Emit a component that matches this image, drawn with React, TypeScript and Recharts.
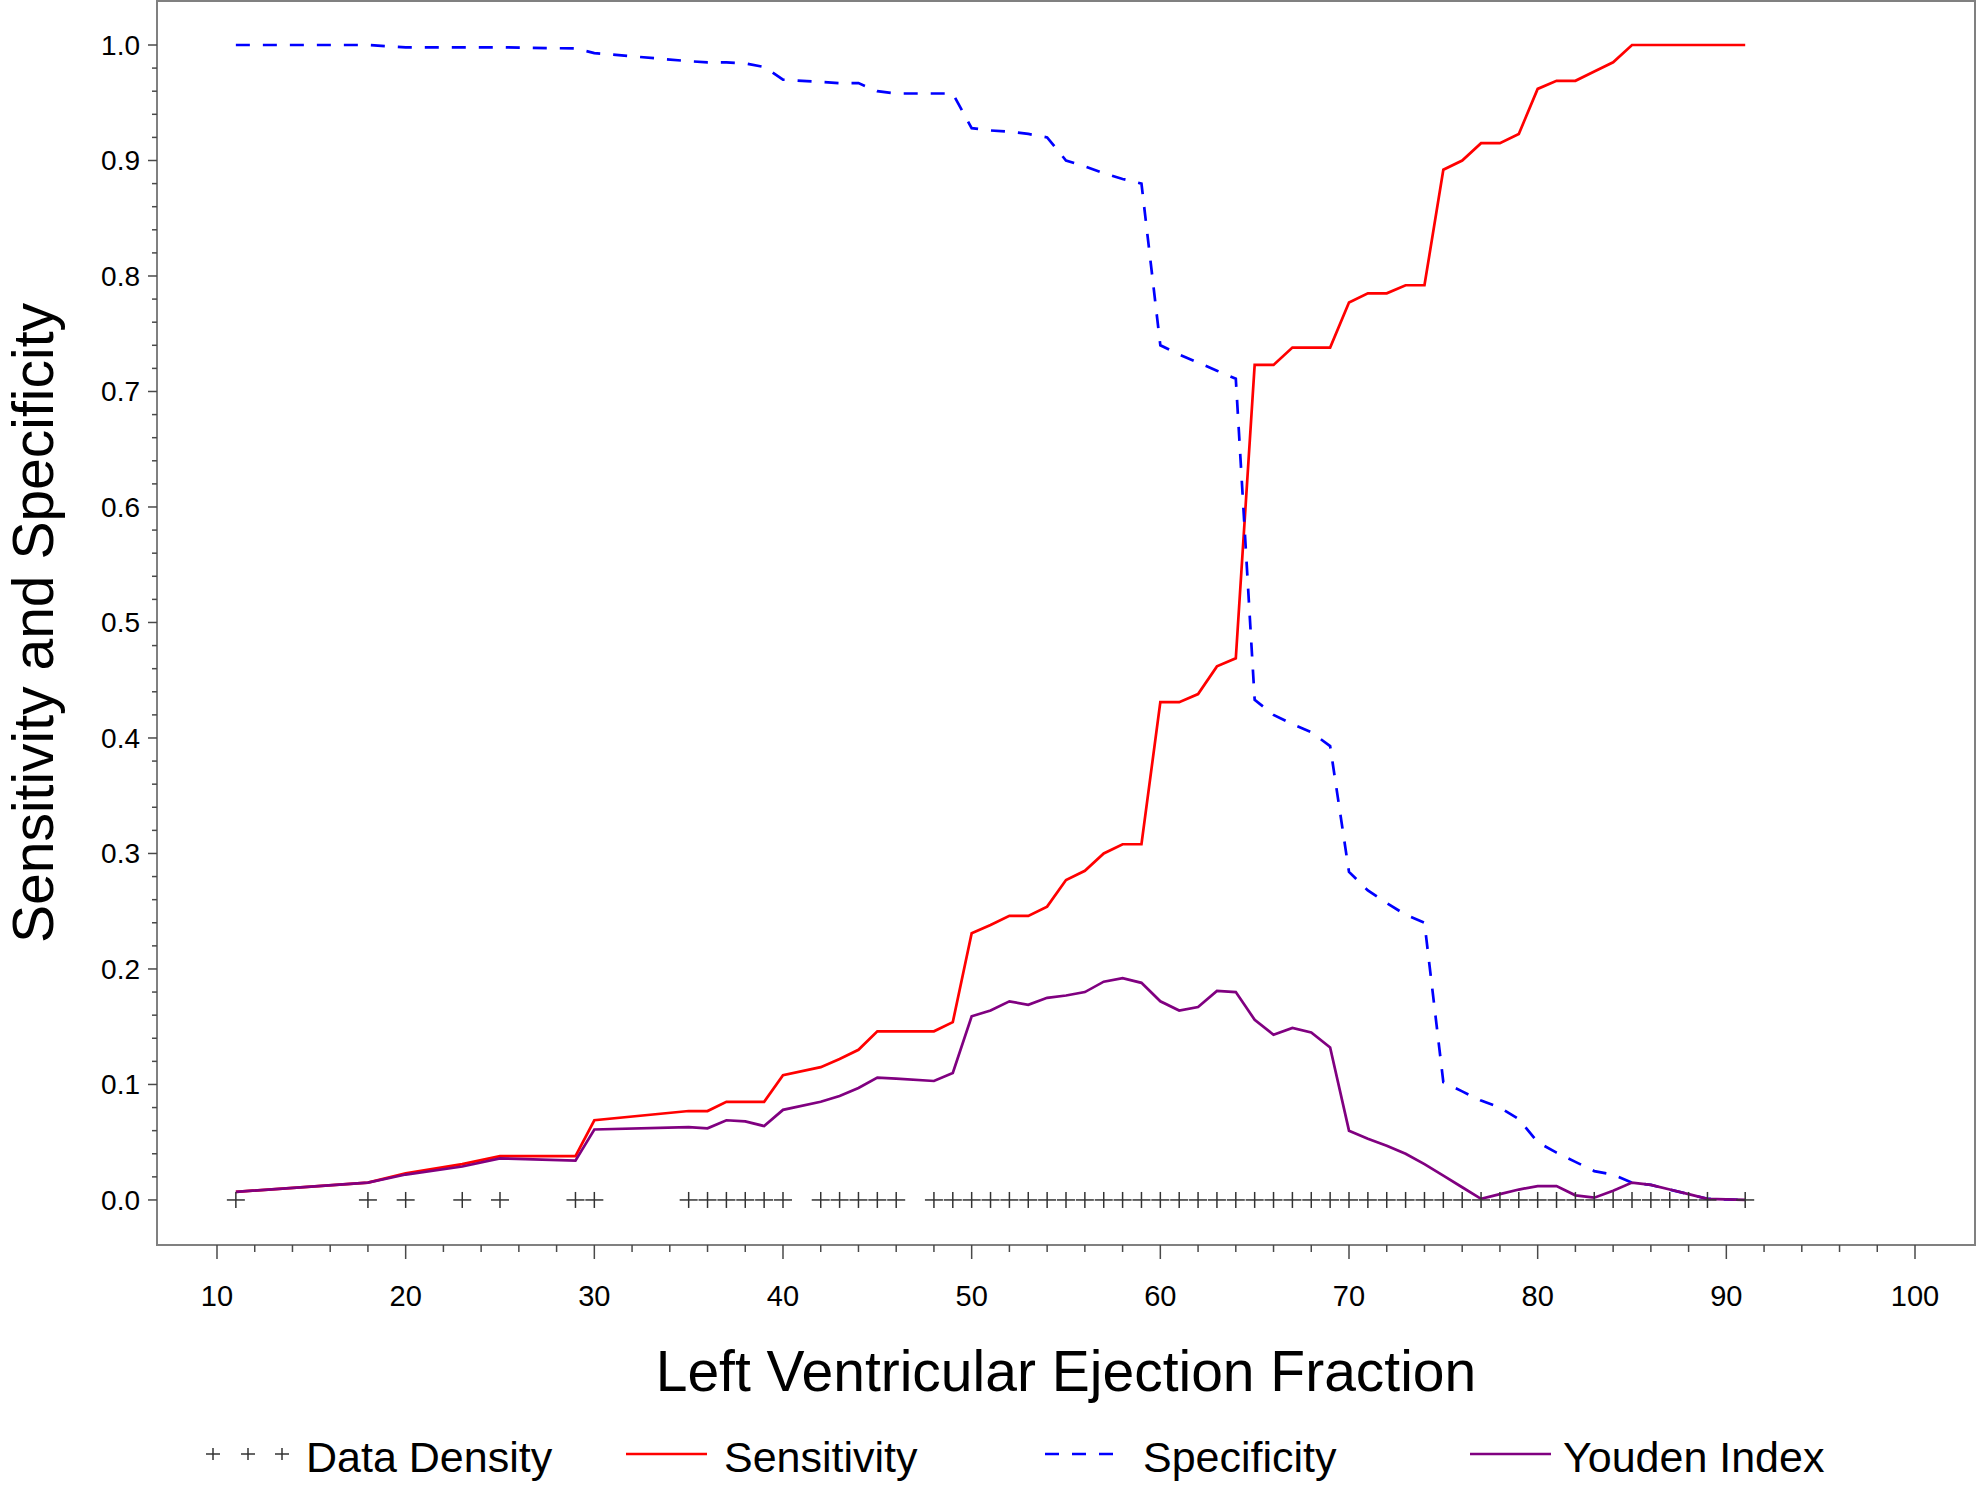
import React from 'react';
import { ComposedChart, Line, Scatter, XAxis, YAxis, ReferenceArea } from 'recharts';

// Cut points of Left Ventricular Ejection Fraction (also the Data Density marks)
const cutpoints = [
  11, 18, 20, 23, 25, 29, 30, 35, 36, 37, 38, 39, 40, 42, 43, 44, 45, 46,
  48, 49, 50, 51, 52, 53, 54, 55, 56, 57, 58, 59,
  60, 61, 62, 63, 64, 65, 66, 67, 68, 69,
  70, 71, 72, 73, 74, 75, 76, 77, 78, 79,
  80, 81, 82, 83, 84, 85, 86, 87, 88, 89, 91,
];

const sensitivity = [
  0.007, 0.015, 0.023, 0.031, 0.038, 0.038, 0.069, 0.077, 0.077, 0.085, 0.085, 0.085, 0.108, 0.115, 0.122, 0.130, 0.146, 0.146,
  0.146, 0.154, 0.231, 0.238, 0.246, 0.246, 0.254, 0.277, 0.285, 0.300, 0.308, 0.308,
  0.431, 0.431, 0.438, 0.462, 0.469, 0.723, 0.723, 0.738, 0.738, 0.738,
  0.777, 0.785, 0.785, 0.792, 0.792, 0.892, 0.900, 0.915, 0.915, 0.923,
  0.962, 0.969, 0.969, 0.977, 0.985, 1.0, 1.0, 1.0, 1.0, 1.0, 1.0,
];

const specificity = [
  1.0, 1.0, 0.998, 0.998, 0.998, 0.997, 0.993, 0.986, 0.985, 0.985, 0.984, 0.981, 0.970, 0.968, 0.967, 0.967, 0.960, 0.958,
  0.958, 0.958, 0.928, 0.926, 0.925, 0.923, 0.920, 0.900, 0.895, 0.889, 0.884, 0.880,
  0.740, 0.732, 0.725, 0.718, 0.711, 0.433, 0.420, 0.412, 0.405, 0.393,
  0.284, 0.268, 0.257, 0.247, 0.240, 0.102, 0.094, 0.086, 0.080, 0.070,
  0.050, 0.041, 0.033, 0.025, 0.022, 0.015, 0.013, 0.009, 0.005, 0.001, 0.0,
];

const youden = [
  0.007, 0.015, 0.022, 0.029, 0.036, 0.034, 0.061, 0.063, 0.062, 0.069, 0.068, 0.064, 0.078, 0.085, 0.090, 0.097, 0.106, 0.105,
  0.103, 0.110, 0.159, 0.164, 0.172, 0.169, 0.175, 0.177, 0.180, 0.189, 0.192, 0.188,
  0.172, 0.164, 0.167, 0.181, 0.180, 0.156, 0.143, 0.149, 0.145, 0.132,
  0.060, 0.053, 0.047, 0.040, 0.031, 0.021, 0.011, 0.001, 0.005, 0.009,
  0.012, 0.012, 0.004, 0.002, 0.008, 0.015, 0.013, 0.009, 0.005, 0.001, 0.0,
];

const xMajorTicks = [10, 20, 30, 40, 50, 60, 70, 80, 90, 100];
const yMajorTicks = [0.0, 0.1, 0.2, 0.3, 0.4, 0.5, 0.6, 0.7, 0.8, 0.9, 1.0];
const xTicks = Array.from({ length: 46 }, (_, i) => 10 + i * 2);
const yTicks = Array.from({ length: 51 }, (_, i) => Math.round(i * 2) / 100);

const xTitle = 'Left Ventricular Ejection Fraction';
const yTitle = 'Sensitivity and Specificity';
const legendItems = ['Data Density', 'Sensitivity', 'Specificity', 'Youden Index'];

const X_DOMAIN: [number, number] = [6.82, 103.18];
const Y_DOMAIN: [number, number] = [-0.039, 1.0381];

const FONT = "'Liberation Sans', Arial, Helvetica, sans-serif";
const RED = '#FF0000';
const BLUE = '#0000FF';
const PURPLE = '#800080';
const FRAME = '#808080';
const TICK = '#4a4a4a';

const sensData = cutpoints.map((x, i) => ({ x, y: sensitivity[i] }));
const specData = cutpoints.map((x, i) => ({ x, y: specificity[i] }));
const youdenData = cutpoints.map((x, i) => ({ x, y: youden[i] }));
const densityData = cutpoints.map((x) => ({ x, y: 0 }));

const XTick = (props: any) => {
  const { x, y, payload } = props;
  const v = payload.value;
  const major = xMajorTicks.some((m) => Math.abs(m - v) < 1e-6);
  return (
    <g>
      <line x1={x} y1={y} x2={x} y2={y + (major ? 14 : 7)} stroke={TICK} strokeWidth={1.5} />
      {major && (
        <text x={x} y={y + 61} textAnchor="middle" fontSize={29} fill="#000" fontFamily={FONT}>
          {String(Math.round(v))}
        </text>
      )}
    </g>
  );
};

const YTick = (props: any) => {
  const { x, y, payload } = props;
  const v = payload.value;
  const major = yMajorTicks.some((m) => Math.abs(m - v) < 1e-6);
  return (
    <g>
      <line x1={x - (major ? 9 : 5)} y1={y} x2={x} y2={y} stroke={TICK} strokeWidth={1.5} />
      {major && (
        <text x={x - 17} y={y + 10} textAnchor="end" fontSize={28} fill="#000" fontFamily={FONT}>
          {v.toFixed(1)}
        </text>
      )}
    </g>
  );
};

const CrossShape = (props: any) => {
  const { cx, cy } = props;
  if (cx == null || cy == null) return null;
  return (
    <g>
      <line x1={cx - 9} y1={cy} x2={cx + 9} y2={cy} stroke="#333" strokeWidth={1.5} />
      <line x1={cx} y1={cy - 8} x2={cx} y2={cy + 8} stroke="#333" strokeWidth={1.5} />
    </g>
  );
};

const XTitle = (props: any) => {
  const vb = props.viewBox || { x: 157, y: 1245, width: 1818, height: 241 };
  return (
    <text x={vb.x + vb.width / 2} y={vb.y + 146} textAnchor="middle" fontSize={57} fill="#000" fontFamily={FONT}>
      {xTitle}
    </text>
  );
};

const YTitle = (props: any) => {
  const vb = props.viewBox || { x: 0, y: 1, width: 157, height: 1244 };
  const cx = vb.x + 53;
  const cy = vb.y + vb.height / 2;
  return (
    <text x={cx} y={cy} transform={`rotate(-90, ${cx}, ${cy})`} textAnchor="middle" fontSize={57} fill="#000" fontFamily={FONT}>
      {yTitle}
    </text>
  );
};

const LegendBar = () => {
  const lineY = 54;
  const baseY = 72;
  return (
    <svg width={1976} height={86} style={{ position: 'absolute', left: 0, top: 1400 }}>
      {[213, 248, 282].map((cx) => (
        <g key={cx}>
          <line x1={cx - 7} y1={lineY} x2={cx + 7} y2={lineY} stroke="#333" strokeWidth={1.5} />
          <line x1={cx} y1={lineY - 6} x2={cx} y2={lineY + 6} stroke="#333" strokeWidth={1.5} />
        </g>
      ))}
      <text x={306} y={baseY} fontSize={43} fontFamily={FONT} fill="#000">{legendItems[0]}</text>
      <line x1={626} y1={lineY} x2={707} y2={lineY} stroke={RED} strokeWidth={2.7} />
      <text x={724} y={baseY} fontSize={43} fontFamily={FONT} fill="#000">{legendItems[1]}</text>
      <line x1={1045} y1={lineY} x2={1126} y2={lineY} stroke={BLUE} strokeWidth={2.7} strokeDasharray="14 13" />
      <text x={1143} y={baseY} fontSize={43} fontFamily={FONT} fill="#000">{legendItems[2]}</text>
      <line x1={1470} y1={lineY} x2={1551} y2={lineY} stroke={PURPLE} strokeWidth={2.7} />
      <text x={1563} y={baseY} fontSize={43} fontFamily={FONT} fill="#000">{legendItems[3]}</text>
    </svg>
  );
};

export default function App() {
  return (
    <div style={{ position: 'absolute', left: 0, top: 0, width: 1976, height: 1486, background: '#fff', fontFamily: FONT }}>
      <ComposedChart width={1976} height={1486} margin={{ top: 1, right: 1, left: 0, bottom: 0 }}>
        <XAxis
          dataKey="x"
          type="number"
          domain={X_DOMAIN}
          allowDataOverflow
          ticks={xTicks}
          interval={0}
          tick={<XTick />}
          tickLine={false}
          tickSize={0}
          tickMargin={0}
          height={241}
          axisLine={{ stroke: FRAME, strokeWidth: 2 }}
          label={<XTitle />}
        />
        <YAxis
          dataKey="y"
          type="number"
          domain={Y_DOMAIN}
          allowDataOverflow
          ticks={yTicks}
          interval={0}
          tick={<YTick />}
          tickLine={false}
          tickSize={0}
          tickMargin={0}
          width={157}
          axisLine={{ stroke: FRAME, strokeWidth: 2 }}
          label={<YTitle />}
        />
        <ReferenceArea
          x1={X_DOMAIN[0]}
          x2={X_DOMAIN[1]}
          y1={Y_DOMAIN[0]}
          y2={Y_DOMAIN[1]}
          fill="none"
          fillOpacity={0}
          stroke={FRAME}
          strokeWidth={2}
          ifOverflow="visible"
        />
        <Scatter data={densityData} dataKey="y" shape={<CrossShape />} isAnimationActive={false} />
        <Line data={sensData} dataKey="y" type="linear" stroke={RED} strokeWidth={2.7} dot={false} activeDot={false} isAnimationActive={false} />
        <Line data={specData} dataKey="y" type="linear" stroke={BLUE} strokeWidth={2.7} strokeDasharray="14 13" dot={false} activeDot={false} isAnimationActive={false} />
        <Line data={youdenData} dataKey="y" type="linear" stroke={PURPLE} strokeWidth={2.7} dot={false} activeDot={false} isAnimationActive={false} />
      </ComposedChart>
      <LegendBar />
    </div>
  );
}
